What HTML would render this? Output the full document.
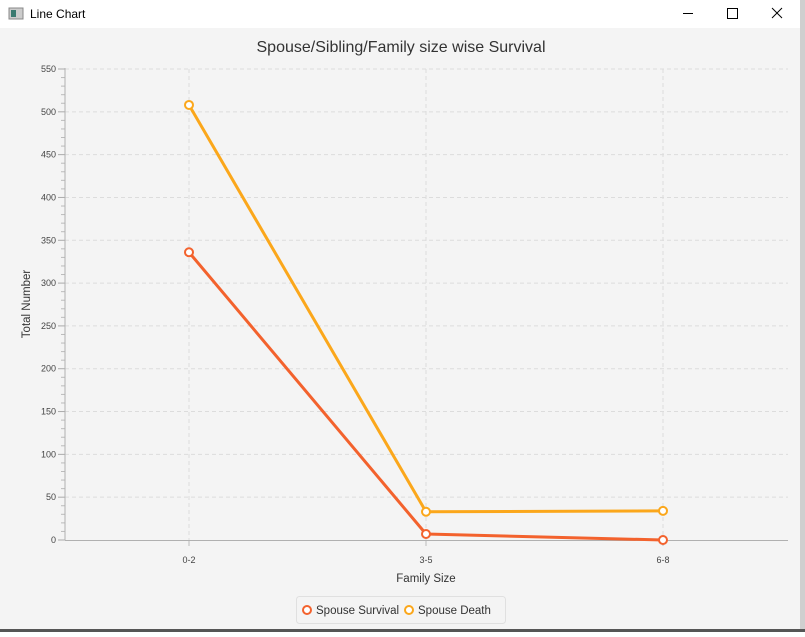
<!DOCTYPE html>
<html><head><meta charset="utf-8"><style>
body{margin:0;width:805px;height:632px;overflow:hidden;background:#fff;font-family:"Liberation Sans",sans-serif;}
</style></head><body>
<svg width="805" height="632" xmlns="http://www.w3.org/2000/svg" font-family="Liberation Sans, sans-serif">
<rect x="0" y="0" width="805" height="28" fill="#ffffff"/>
<rect x="0" y="28" width="800" height="602" fill="#f4f4f4"/>
<rect x="800" y="0" width="5" height="632" fill="#cfcfcf"/>
<rect x="0" y="629" width="805" height="3" fill="#555"/>
<g><rect x="9" y="8" width="14" height="11" fill="#ccc" stroke="#888" stroke-width="1"/><rect x="11" y="10" width="5" height="7" fill="#3a7a70"/></g>
<text x="30" y="18" font-size="12" fill="#000">Line Chart</text>
<line x1="683" y1="13.5" x2="693" y2="13.5" stroke="#000"/>
<rect x="727.5" y="8.5" width="10" height="10" fill="none" stroke="#000"/>
<g stroke="#000"><line x1="772" y1="8" x2="782" y2="18"/><line x1="782" y1="8" x2="772" y2="18"/></g>
<text x="401" y="52" font-size="16" fill="#333" text-anchor="middle">Spouse/Sibling/Family size wise Survival</text>
<g id="grid"></g><g id="axes"></g><g id="series"></g>
<text transform="translate(30,304) rotate(-90)" font-size="11.5" fill="#333" text-anchor="middle">Total Number</text>
<text x="426" y="582" font-size="11.5" fill="#333" text-anchor="middle">Family Size</text>
<g>
<rect x="296.5" y="596.5" width="209" height="27" rx="3" fill="#f4f4f4" stroke="#e0e0e0"/>
<circle cx="307" cy="610" r="4" fill="#fff" stroke="#f3622d" stroke-width="2"/>
<text x="316" y="614" font-size="11.5" fill="#333">Spouse Survival</text>
<circle cx="409" cy="610" r="4" fill="#fff" stroke="#fba71b" stroke-width="2"/>
<text x="418" y="614" font-size="11.5" fill="#333">Spouse Death</text>
</g>
</svg>
<script>
const categories=["0-2","3-5","6-8"];
const survival=[336,7,0];
const death=[508,33,34];
const yTicks=[0,50,100,150,200,250,300,350,400,450,500,550];
const NS="http://www.w3.org/2000/svg";
const X0=65,X1=788,Y0=540,Y1=69,YMAX=550;
function xs(i){return 189+i*237;}
function ys(v){return Y0-(v/YMAX)*(Y0-Y1);}
function mk(t,a,p){const e=document.createElementNS(NS,t);for(const k in a)e.setAttribute(k,a[k]);p.appendChild(e);return e;}
const grid=document.getElementById('grid'),axes=document.getElementById('axes'),ser=document.getElementById('series');
yTicks.forEach(v=>{
 if(v>0){const g=mk('line',{x1:X0,x2:X1,y1:ys(v),y2:ys(v),stroke:'#dcdcdc','stroke-dasharray':'4,3'},grid);
 
 }
 const tk=mk('line',{x1:X0-7,x2:X0,y1:ys(v),y2:ys(v),stroke:'#aaa'},axes);
 
 
 const t=mk('text',{x:X0-9,y:ys(v)+3,'font-size':'9',fill:'#444','text-anchor':'end'},axes);t.textContent=v;
 
 
});
for(let v=10;v<YMAX;v+=10){if(v%50)mk('line',{x1:X0-4,x2:X0,y1:ys(v),y2:ys(v),stroke:'#bbb'},axes);}
categories.forEach((c,i)=>{
 const g=mk('line',{x1:xs(i),x2:xs(i),y1:Y1,y2:Y0,stroke:'#dcdcdc','stroke-dasharray':'4,3'},grid);
 
 
 mk('line',{x1:xs(i),x2:xs(i),y1:Y0,y2:Y0+6,stroke:'#bbb'},axes);
 const t=mk('text',{x:xs(i),y:Y0+23,'font-size':'9',fill:'#444','text-anchor':'middle'},axes);t.textContent=c;
 
 
});
const ya=mk('line',{x1:X0,x2:X0,y1:Y1-1,y2:Y0,stroke:'#b0b0b0'},axes);


const xa=mk('line',{x1:X0,x2:X1,y1:Y0+0.5,y2:Y0+0.5,stroke:'#b0b0b0'},axes);


function draw(vals,color,name){
 const p=mk('polyline',{points:vals.map((v,i)=>xs(i)+','+ys(v)).join(' '),fill:'none',stroke:color,'stroke-width':3,'stroke-linejoin':'round'},ser);
 
 
 vals.forEach((v,i)=>{const c=mk('circle',{cx:xs(i),cy:ys(v),r:4,fill:'#fff',stroke:color,'stroke-width':2},ser);
 
 });
}
draw(survival,'#f3622d','survival');
draw(death,'#fba71b','death');
</script>
</body></html>
